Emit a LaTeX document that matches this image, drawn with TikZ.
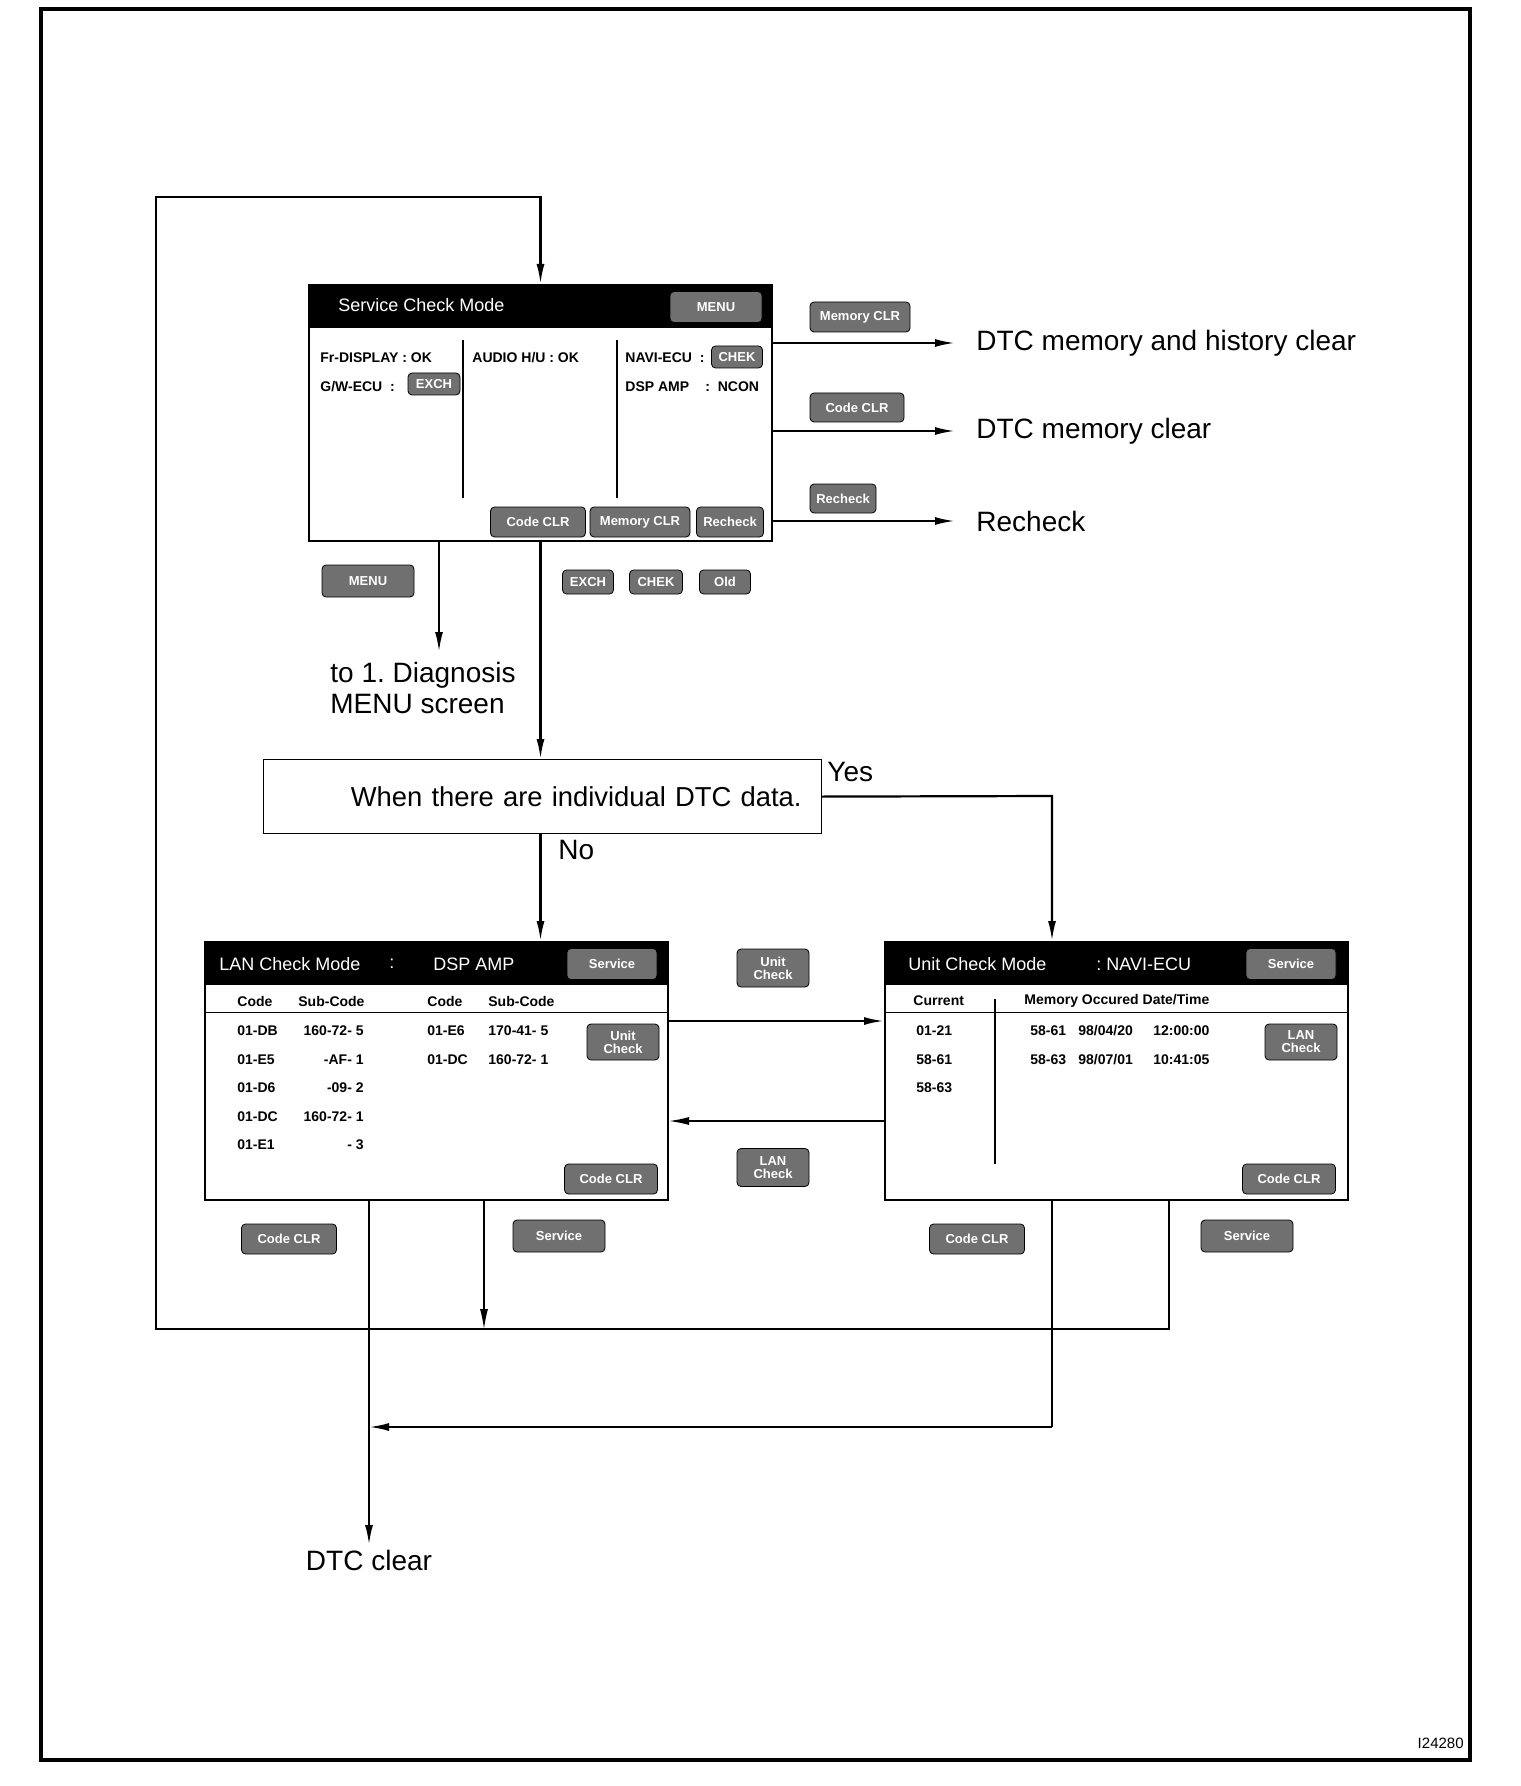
\documentclass[tikz,border=0pt]{standalone}
\usepackage{fontspec}
\setmainfont{Liberation Sans}
\usetikzlibrary{arrows.meta,positioning}
\frenchspacing
\definecolor{keygray}{RGB}{112,112,112}
\tikzset{
  screen/.style={draw,line width=1pt,anchor=north west,inner sep=0pt,minimum width=231.5pt,minimum height=129pt},
  keybtn/.style={draw,fill=keygray,rounded corners=2pt,text=white,inner sep=0pt,align=center,font=\fontsize{6.5}{6.5}\selectfont\bfseries},
  kb/.style 2 args={keybtn,minimum width=#1,minimum height=#2},
  lbl/.style={inner sep=0pt,font=\fontsize{14}{15.5}\selectfont},
  headtxt/.style={inner sep=0pt,anchor=west,text=white,font=\fontsize{9}{10}\selectfont},
  cell/.style={inner sep=0pt,anchor=west,font=\fontsize{7}{8}\selectfont\bfseries},
  flow/.style={line width=1.1pt},
  arr/.style={-{Latex[length=10pt,width=4pt]}},
}

\begin{document}
\begin{tikzpicture}[x=0.5pt,y=-0.5pt]
\useasboundingbox (0,0) rectangle (1520,1786);
\draw[line width=1.6pt] (41,9) rectangle (1470,1760);
\node[inner sep=0pt,anchor=east,font=\fontsize{7.5}{8}\selectfont] (fig) at (1464,1743) {I24280};

% service check screen
\node[screen,minimum height=128pt] (scm) at (308,284) {};
\fill (scm.north west) rectangle ([yshift=-22pt]scm.north east);
\node[headtxt] (scmt) at (338,305) {Service Check Mode};
\node[kb={46pt}{15.5pt}] (smenu) at (716,307) {MENU};
\node[cell] (frd) at (320,358) {Fr-DISPLAY : OK};
\node[cell] (gw) at (320,387) {G/W-ECU\ \ :};
\node[kb={26pt}{11pt}] (sexch) at (434,384) {EXCH};
\node[cell] (aud) at (472,358) {AUDIO H/U : OK};
\node[cell] (nav) at (625,358) {NAVI-ECU\ \ :};
\node[kb={25.5pt}{11pt}] (schek) at (737,357) {CHEK};
\node[cell] (dsp) at (625,387) {DSP AMP};
\node[cell] (ncon) at (705,387) {:\ \ NCON};
\draw[line width=0.8pt] (463,340) -- (463,498) (617,340) -- (617,498);
\node[kb={47.5pt}{15pt}] (scc) at (538,522) {Code CLR};
\node[kb={50pt}{15pt}] (smc) at (640,522) {Memory CLR};
\node[kb={33.5pt}{15pt}] (src) at (730,522) {Recheck};

% results on the right
\node[lbl,anchor=west] (mhc) at (976,343) {DTC memory and history clear};
\node[lbl,anchor=west] (mc) at (976,431) {DTC memory clear};
\node[lbl,anchor=west] (rc) at (976,521) {Recheck};
\node[kb={50pt}{15pt}] (bmc) at (860,317) {Memory CLR};
\node[kb={47pt}{14.5pt}] (bcc) at (857,407.5) {Code CLR};
\node[kb={33pt}{14.5pt}] (brc) at (843,498.5) {Recheck};
\foreach \n in {mhc,mc,rc}
  \draw[flow,arr] (scm.east |- \n.west) -- ([xshift=-10.5pt]\n.west);

% keys under the screen
\node[kb={46pt}{16pt}] (bmenu) at (368,581) {MENU};
\node[kb={25.5pt}{12pt}] (bexch) at (588,582) {EXCH};
\node[kb={26.5pt}{12pt}] (bchek) at (656,582) {CHEK};
\node[kb={25.5pt}{12pt}] (bold) at (725,582) {Old};
\node[lbl,anchor=north west,align=left] (dgn) at (330,662) {to 1. Diagnosis\\MENU screen};

% decision
\node[draw,line width=0.6pt,anchor=north west,inner xsep=10pt,text width=259pt,align=right,minimum height=37pt,font=\fontsize{13.7}{16}\selectfont] (dec) at (263,759) {When there are individual DTC data.};
\node[lbl,anchor=west] (yes) at (827,772) {Yes};
\node[lbl,anchor=west] (no) at (558,850) {No};

% LAN and unit check screens
\node[screen] (lcm) at (204,941) {};
\node[screen] (ucm) at (884,941) {};
\foreach \s in {lcm,ucm}{
  \fill (\s.north west) rectangle ([yshift=-22pt]\s.north east);
  \draw (\s.north west) ++(0,71) -- ++(463,0);
}
\node[headtxt] (lt1) at (219,964) {LAN Check Mode};
\node[headtxt] (lt2) at (389,964) {:};
\node[headtxt] (lt3) at (433,964) {DSP AMP};
\node[kb={45pt}{15.5pt}] (lsv) at (612,964) {Service};
\node[headtxt] (ut1) at (908,964) {Unit Check Mode};
\node[headtxt] (ut2) at (1096,964) {: NAVI-ECU};
\node[kb={45pt}{15.5pt}] (usv) at (1291,964) {Service};

\node[cell] (lh1) at (237,1001) {Code};
\node[cell] (lh2) at (298,1001) {Sub-Code};
\node[cell] (lh3) at (427,1001) {Code};
\node[cell] (lh4) at (488,1001) {Sub-Code};
\foreach \c/\d [count=\i] in {01-DB/160-72- 5,01-E5/-AF- 1,01-D6/-09- 2,01-DC/160-72- 1,01-E1/- 3}{
  \node[cell] (lc\i) at (237,{1002.5+28.5*\i}) {\c};
  \node[cell,anchor=east] (ld\i) at (364,{1002.5+28.5*\i}) {\d};
}
\foreach \c/\d [count=\i] in {01-E6/170-41- 5,01-DC/160-72- 1}{
  \node[cell] (le\i) at (427,{1002.5+28.5*\i}) {\c};
  \node[cell] (lf\i) at (488,{1002.5+28.5*\i}) {\d};
}
\node[kb={36pt}{18pt}] (lun) at (623,1042) {Unit\\Check};
\node[kb={46.5pt}{15pt}] (lcl) at (611,1179) {Code CLR};

\node[cell] (uh1) at (913,1001) {Current};
\node[cell] (uh2) at (1024,1001) {Memory\ Occured\ Date/Time};
\draw[line width=0.8pt] (995,999) -- (995,1164);
\foreach \c [count=\i] in {01-21,58-61,58-63}
  \node[cell] (uc\i) at (916,{1002.5+28.5*\i}) {\c};
\node[cell] (um1) at (1030,1031) {58-61};
\node[cell] (ud1) at (1078,1031) {98/04/20};
\node[cell] (ut1) at (1153,1031) {12:00:00};
\node[cell] (um2) at (1030,1059.5) {58-63};
\node[cell] (ud2) at (1078,1059.5) {98/07/01};
\node[cell] (ut2) at (1153,1059.5) {10:41:05};
\node[kb={36pt}{18pt}] (ulc) at (1301,1042) {LAN\\Check};
\node[kb={46.5pt}{15pt}] (ucl) at (1289,1179) {Code CLR};

\node[kb={36pt}{19pt}] (bun) at (773,968) {Unit\\Check};
\node[kb={36pt}{19pt}] (blc) at (773,1167.5) {LAN\\Check};

% keys and result below
\node[kb={47.5pt}{15pt}] (b1) at (289,1239) {Code CLR};
\node[kb={46pt}{16pt}] (b2) at (559,1236) {Service};
\node[kb={47.5pt}{15pt}] (b3) at (977,1239) {Code CLR};
\node[kb={46pt}{16pt}] (b4) at (1247,1236) {Service};
\node[lbl,anchor=north] (dtc) at (369,1550) {DTC clear};

% connectors
\coordinate (lp) at (1169,1329);
\coordinate (mx) at (439,652);
\coordinate (yx) at (1052,796);
\coordinate (ua) at (0,1021);
\coordinate (la) at (0,1121);
\coordinate (sv) at (484,1329);
\coordinate (cc) at (1052,1427);
\draw[flow,arr] (ucm.south -| lp) -- (lp) -- (156,1329) -- (156,197) -| (scm.north);
\draw[flow,arr] (scm.south -| mx) -- (mx);
\draw[flow,arr] (scm.south) -- (scm.south |- dec.north);
\draw[flow,arr] (scm.south |- dec.south) -- (scm.south |- lcm.north);
\draw[flow,arr] (dec.east) -- (yx) -- (yx |- ucm.north);
\draw[flow,arr] (lcm.east |- ua) -- (ucm.west |- ua);
\draw[line width=0.7pt,arr] (ucm.west |- la) -- (lcm.east |- la);
\draw[flow,arr,shorten >=2.5pt] (lcm.south -| dtc) -- (dtc.north);
\draw[line width=0.6pt,arr] (lcm.south -| sv) -- (sv);
\draw[line width=0.6pt] (ucm.south -| cc) -- (cc);
\draw[flow,arr] (cc) -- (cc -| dtc);
\end{tikzpicture}
\end{document}
